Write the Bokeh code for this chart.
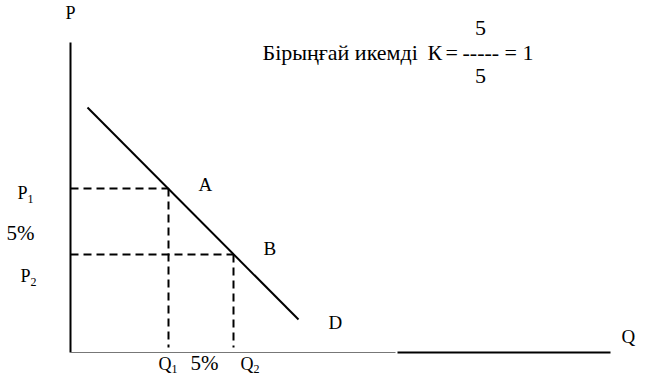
from bokeh.plotting import figure
from bokeh.models import Range1d
from bokeh.core.properties import value
from bokeh.embed import file_html
from bokeh.resources import INLINE

# ---- data (schematic units, origin at the axes' intersection) ----
point_names = ["A", "B"]
q_points = [98, 163]          # Q1, Q2
p_points = [164, 98]          # P1, P2
demand_q = [17, 228]          # demand line D endpoints
demand_p = [245, 33]
p_axis_top = 310
q_axis_thin_end = 325
q_axis_end = 540

title_words = "Бірыңғай икемді"
formula_parts = ["К", "=", "-----", "=", "1"]
numerator = "5"
denominator = "5"
p_labels = ["P", "P"]
q_labels = ["Q", "Q"]
subs = ["1", "2"]
pct_text = "5%"

FONT = value("Liberation Serif")

p = figure(width=637, height=375, output_backend="svg", toolbar_location=None,
           x_range=Range1d(-70, 567), y_range=Range1d(-23, 352),
           x_axis_type=None, y_axis_type=None, min_border=0,
           outline_line_color=None, background_fill_color="white",
           border_fill_color="white")
p.grid.visible = False

# axes
p.line([0, 0], [0, p_axis_top], line_color="black", line_width=2)
p.line([0, q_axis_thin_end], [0, 0], line_color="#777777", line_width=1)
p.line([q_axis_thin_end + 2, q_axis_end], [0, 0], line_color="black", line_width=2)

# demand line
p.line(demand_q, demand_p, line_color="black", line_width=2)

# dashed guides
for q, pp in zip(q_points, p_points):
    p.line([0, q], [pp, pp], line_color="black", line_width=2, line_dash="8 5")
    p.line([q, q], [pp, 5], line_color="black", line_width=2, line_dash="8 5")

def txt(x, y, s, size=18, align="left"):
    p.text(x=[x], y=[y], text=[s], text_font=FONT, text_font_size=f"{size}px",
           text_color="black", text_align=align, text_baseline="alphabetic",
           y_offset=-round(0.37 * size))

SUB = 12

# axis names
txt(-5, 333, "P")
txt(551, 9, "Q", size=19)

# point labels
txt(q_points[0] + 30, p_points[0] - 3, point_names[0], size=19)
txt(q_points[1] + 30, p_points[1] - 1, point_names[1], size=19)
txt(demand_q[1] + 30, 23, "D", size=19)

# price labels
txt(-53, 153, p_labels[0])
txt(-43, 150, subs[0], size=SUB)
txt(-64, 112, pct_text, size=21)
txt(-50, 70, p_labels[1])
txt(-40, 67, subs[1], size=SUB)

# quantity labels
txt(q_points[0] - 10, -18, q_labels[0])
txt(q_points[0] + 3, -20, subs[0], size=SUB)
txt(q_points[0] + 22, -18, pct_text, size=21)
txt(q_points[1] + 7, -18, q_labels[1])
txt(q_points[1] + 20, -20, subs[1], size=SUB)

# elasticity formula
txt(192, 292, title_words, size=22)
formula_x = [357, 375, 392, 434, 452]
for fx, part in zip(formula_x, formula_parts):
    txt(fx, 292, part, size=22)
txt(410, 317, numerator, size=22, align="center")
txt(410, 269, denominator, size=22, align="center")

open("out.html", "w").write(file_html(p, INLINE))
